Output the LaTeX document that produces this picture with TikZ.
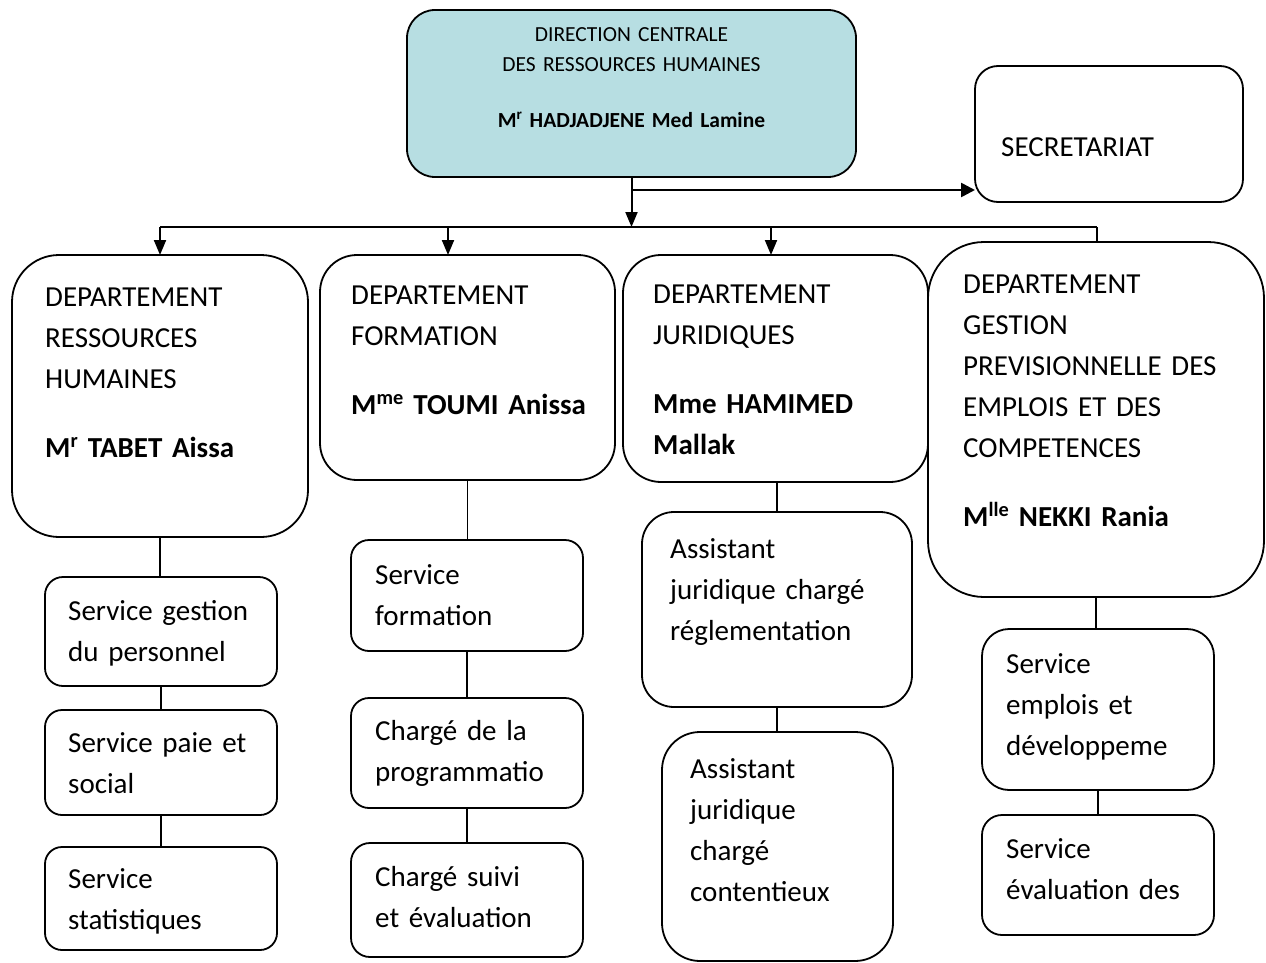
\documentclass[tikz,border=0pt]{standalone}
\usepackage{fontspec}
\setmainfont{Carlito}
\usetikzlibrary{arrows.meta}
\definecolor{dirfill}{RGB}{183,222,226}

\begin{document}
\begin{tikzpicture}[
        x=1pt, y=-1pt,
        box/.style={draw=black, line width=1.8pt, anchor=north west, inner sep=0pt, outer sep=0pt},
        txt/.style={anchor=base west, inner sep=0pt, text width=300pt, align=left, font=\fontsize{29}{41}\selectfont},
        head/.style={anchor=base, inner sep=0pt, text width=440pt, align=center, font=\fontsize{21.5}{29.5}\selectfont},
        bus/.style={line width=2.4pt},
        arr/.style={line width=2pt, -{Triangle[length=15pt, width=12pt]}},
        link/.style={line width=1.5pt},
    ]
    \useasboundingbox (0,0) rectangle (1266,963);

    \node[box, fill=dirfill, minimum width=449, minimum height=167, rounded corners=28] (dir) at (407,10) {};
    \node[head] (dir-t) at (631.5,42) {DIRECTION CENTRALE\\DES RESSOURCES HUMAINES\\[26.5pt]\textbf{M\textsuperscript{r} HADJADJENE Med Lamine}};

    \node[box, minimum width=268, minimum height=136, rounded corners=23] (sec) at (975,66) {};
    \node[txt] (sec-t) at (1001,157) {SECRETARIAT};

    \node[box, minimum width=296, minimum height=282, rounded corners=47] (d1) at (12,255) {};
    \node[box, minimum width=295, minimum height=225, rounded corners=37] (d2) at (320,255) {};
    \node[box, minimum width=305, minimum height=227, rounded corners=38] (d3) at (623,255) {};
    \node[box, minimum width=336, minimum height=355, rounded corners=56] (d4) at (928,242) {};

    \node[txt] (d1-t) at (45,306) {DEPARTEMENT\\RESSOURCES\\HUMAINES\\[28pt]\textbf{M\textsuperscript{r} TABET Aissa}};
    \node[txt] (d2-t) at (351,304) {DEPARTEMENT\\FORMATION\\[28pt]\textbf{M\textsuperscript{me} TOUMI Anissa}};
    \node[txt] (d3-t) at (653,303) {DEPARTEMENT\\JURIDIQUES\\[28pt]\textbf{Mme HAMIMED}\\\textbf{Mallak}};
    \node[txt] (d4-t) at (963,293) {DEPARTEMENT\\GESTION\\PREVISIONNELLE DES\\EMPLOIS ET DES\\COMPETENCES\\[28pt]\textbf{M\textsuperscript{lle} NEKKI Rania}};

    \node[box, minimum width=232, minimum height=109, rounded corners=18] (s11) at (45,577) {};
    \node[box, minimum width=232, minimum height=105, rounded corners=17] (s12) at (45,710) {};
    \node[box, minimum width=232, minimum height=103, rounded corners=17] (s13) at (45,847) {};
    \node[txt] (s11-t) at (68,620) {Service gestion\\du personnel};
    \node[txt] (s12-t) at (68,752) {Service paie et\\social};
    \node[txt] (s13-t) at (68,888) {Service\\statistiques};

    \node[box, minimum width=232, minimum height=111, rounded corners=18] (s21) at (351,540) {};
    \node[box, minimum width=232, minimum height=110, rounded corners=18] (s22) at (351,698) {};
    \node[box, minimum width=232, minimum height=114, rounded corners=19] (s23) at (351,843) {};
    \node[txt] (s21-t) at (375,584) {Service\\formation};
    \node[txt] (s22-t) at (375,740) {Chargé de la\\programmatio};
    \node[txt] (s23-t) at (375,886) {Chargé suivi\\et évaluation};

    \node[box, minimum width=270, minimum height=195, rounded corners=32] (s31) at (642,512) {};
    \node[box, minimum width=231, minimum height=229, rounded corners=38] (s32) at (662,732) {};
    \node[txt] (s31-t) at (670,558) {Assistant\\juridique chargé\\réglementation};
    \node[txt] (s32-t) at (690,778) {Assistant\\juridique\\chargé\\contentieux};

    \node[box, minimum width=232, minimum height=161, rounded corners=27] (s41) at (982,629) {};
    \node[box, minimum width=232, minimum height=120, rounded corners=20] (s42) at (982,815) {};
    \node[txt] (s41-t) at (1006,673) {Service\\emplois et\\développeme};
    \node[txt] (s42-t) at (1006,858) {Service\\évaluation des};

    \coordinate (bus-l) at (160,227);
    \coordinate (bus-r) at (1097,227);
    \coordinate (sec-j) at (631.5,190);
    \coordinate (a2) at (448,227);
    \coordinate (a3) at (771,227);

    \draw[bus] (bus-l) -- (bus-r);
    \draw[arr] (dir.south) -- (dir.south |- bus-l);
    \draw[arr, line width=2.6pt, -{Triangle[length=14pt, width=14pt]}] (sec-j) -- (sec.west |- sec-j);
    \draw[arr] (bus-l) -- (d1.north);
    \draw[arr] (a2) -- (a2 |- d2.north);
    \draw[arr] (a3) -- (a3 |- d3.north);
    \draw[bus] (bus-r) -- (bus-r |- d4.north);

    \draw[link] (d1.south) -- (d1.south |- s11.north);
    \draw[link] (s11.south) -- (s11.south |- s12.north);
    \draw[link] (s12.south) -- (s12.south |- s13.north);
    \draw[link] (d2.south) -- (d2.south |- s21.north);
    \draw[link] (s21.south) -- (s21.south |- s22.north);
    \draw[link] (s22.south) -- (s22.south |- s23.north);
    \draw[link] (s31.north |- d3.south) -- (s31.north);
    \draw[link] (s31.south) -- (s31.south |- s32.north);
    \draw[link] (d4.south) -- (d4.south |- s41.north);
    \draw[link] (s41.south) -- (s41.south |- s42.north);
\end{tikzpicture}
\end{document}
